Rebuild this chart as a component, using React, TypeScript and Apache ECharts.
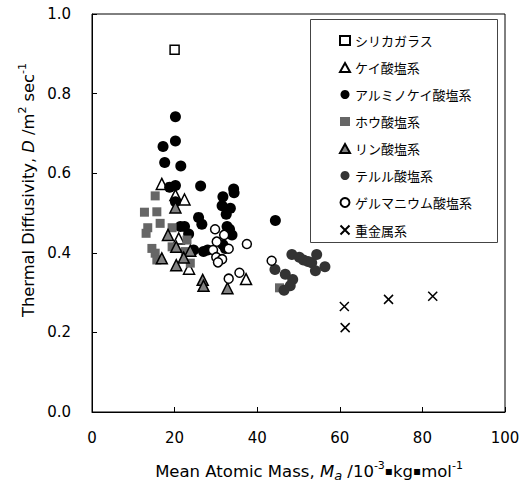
import React, { useEffect, useRef } from 'react';
import * as echarts from 'echarts';

const seriesNames = ['シリカガラス', 'ケイ酸塩系', 'アルミノケイ酸塩系', 'ホウ酸塩系', 'リン酸塩系', 'テルル酸塩系', 'ゲルマニウム酸塩系', '重金属系'];

const silica = [[20, 0.91]];
const silicate = [[16.9, 0.573], [20.2, 0.545], [22.4, 0.534], [21.0, 0.436], [23.5, 0.36], [37.3, 0.334]];
const aluminosilicate = [
  [20.2, 0.742], [20.2, 0.681], [17.2, 0.667], [17.6, 0.627], [21.5, 0.618], [18.8, 0.565], [20.2, 0.569],
  [26.3, 0.568], [31.7, 0.541], [34.3, 0.56], [34.4, 0.551], [20.2, 0.528], [31.5, 0.518], [33.5, 0.512],
  [32.5, 0.497], [25.8, 0.489], [26.6, 0.472], [21.4, 0.466], [22.4, 0.466], [32.7, 0.466], [33.3, 0.459],
  [33.9, 0.445], [23.4, 0.447], [44.4, 0.481], [31.7, 0.42], [32.3, 0.411], [27.0, 0.403], [28.0, 0.407], [24.6, 0.407],
];
const borate = [
  [15.3, 0.543], [12.7, 0.502], [15.7, 0.503], [16.5, 0.474], [13.5, 0.463], [13.1, 0.449], [19.4, 0.463],
  [14.5, 0.411], [15.3, 0.399], [15.7, 0.382], [19.4, 0.415], [23.0, 0.432], [22.6, 0.403], [23.8, 0.374], [45.4, 0.312],
];
const phosphate = [
  [20.2, 0.514], [18.4, 0.445], [20.4, 0.415], [23.8, 0.405], [16.9, 0.386], [22.2, 0.388], [20.4, 0.369],
  [26.8, 0.332], [27.0, 0.317], [32.8, 0.311],
];
const tellurite = [
  [48.4, 0.396], [50.2, 0.389], [51.2, 0.382], [52.3, 0.378], [53.2, 0.375], [54.4, 0.396], [56.4, 0.365], [54.1, 0.355],
  [44.3, 0.358], [46.8, 0.346], [48.6, 0.333], [48.0, 0.317], [46.5, 0.306],
];
const germanate = [
  [29.8, 0.459], [32.0, 0.445], [30.2, 0.428], [37.5, 0.422], [33.1, 0.41], [29.3, 0.407], [30.1, 0.389],
  [31.5, 0.384], [30.5, 0.376], [35.7, 0.35], [33.1, 0.335], [43.5, 0.38],
];
const heavyMetal = [[61.1, 0.265], [61.3, 0.212], [71.8, 0.283], [82.5, 0.291]];

const xTicks = { min: 0, max: 100, interval: 20 };
const yTicks = { min: 0, max: 1.0, interval: 0.2 };

const FONT = 'DejaVu Sans';
const JP = 'Noto Sans CJK JP';
const CROSS = 'path://M0,0L10,10M10,0L0,10';

export default function App() {
  const ref = useRef<HTMLDivElement>(null);
  useEffect(() => {
    const chart = echarts.init(ref.current!, null, { renderer: 'svg' });
    const mk = (name: string, data: number[][], symbol: string, size: number, style: any) => ({
      name, type: 'scatter', data, symbol, symbolSize: size, itemStyle: { opacity: 1, ...style },
    });
    chart.setOption({
      animation: false,
      backgroundColor: '#fff',
      grid: { left: 92, right: 21, top: 14, bottom: 83, show: true, borderColor: '#000', borderWidth: 1 },
      xAxis: {
        type: 'value', ...xTicks,
        axisLine: { show: true, lineStyle: { color: '#000', width: 1 } },
        axisTick: { show: true, inside: true, length: 5, lineStyle: { color: '#000' } },
        splitLine: { show: false },
        axisLabel: { color: '#000', fontFamily: FONT, fontSize: 15, margin: 18 },
      },
      yAxis: {
        type: 'value', ...yTicks,
        axisLine: { show: true, lineStyle: { color: '#000', width: 1 } },
        axisTick: { show: true, inside: true, length: 5, lineStyle: { color: '#000' } },
        splitLine: { show: false },
        axisLabel: { color: '#000', fontFamily: FONT, fontSize: 15, margin: 21, formatter: (v: number) => v.toFixed(1) },
      },
      legend: {
        orient: 'vertical', left: 333, top: 29, itemWidth: 10, itemHeight: 9, itemGap: 14,
        textStyle: { fontFamily: JP, fontSize: 13, color: '#000' },
        data: seriesNames,
      },
      graphic: [
        { type: 'rect', shape: { x: 310.5, y: 19.5, width: 187, height: 223 }, style: { fill: 'none', stroke: '#444', lineWidth: 1 } },
        {
          type: 'text', x: 309, y: 471,
          style: {
            text: '{n|Mean Atomic Mass, }{i|M}{sub|a}{n| /10}{sup|-3}{d|▪}{n|kg}{d|▪}{n|mol}{sup|-1}',
            align: 'center', verticalAlign: 'middle', fill: '#000',
            rich: {
              n: { fontFamily: FONT, fontSize: 16.5, lineHeight: 22, fill: '#000' },
              i: { fontFamily: FONT, fontSize: 16.5, lineHeight: 22, fontStyle: 'italic', fill: '#000' },
              sub: { fontFamily: FONT, fontSize: 13, lineHeight: 22, fontStyle: 'italic', verticalAlign: 'bottom', fill: '#000' },
              sup: { fontFamily: FONT, fontSize: 11, lineHeight: 22, verticalAlign: 'top', fill: '#000' },
              d: { fontFamily: FONT, fontSize: 12, lineHeight: 22, fill: '#000' },
            },
          },
        },
        {
          type: 'text', x: 28, y: 190, rotation: Math.PI / 2,
          style: {
            text: '{n|Thermal Diffusivity, }{i|D}{n| /m}{sup|2}{n| sec}{sup|-1}',
            align: 'center', verticalAlign: 'middle', fill: '#000',
            rich: {
              n: { fontFamily: FONT, fontSize: 16.3, lineHeight: 22, fill: '#000' },
              i: { fontFamily: FONT, fontSize: 16.3, lineHeight: 22, fontStyle: 'italic', fill: '#000' },
              sup: { fontFamily: FONT, fontSize: 11, lineHeight: 22, verticalAlign: 'top', fill: '#000' },
            },
          },
        },
      ],
      series: [
        mk(seriesNames[0], silica, 'rect', 9, { color: '#fff', borderColor: '#000', borderWidth: 1.5 }),
        mk(seriesNames[1], silicate, 'triangle', 11, { color: '#fff', borderColor: '#000', borderWidth: 1.5 }),
        mk(seriesNames[2], aluminosilicate, 'circle', 11, { color: '#000' }),
        mk(seriesNames[3], borate, 'rect', 9, { color: '#666' }),
        mk(seriesNames[4], phosphate, 'triangle', 11, { color: '#808080', borderColor: '#000', borderWidth: 1.5 }),
        mk(seriesNames[5], tellurite, 'circle', 11, { color: '#333' }),
        mk(seriesNames[6], germanate, 'circle', 9, { color: '#fff', borderColor: '#000', borderWidth: 1.5 }),
        mk(seriesNames[7], heavyMetal, CROSS, 9, { color: 'none', borderColor: '#000', borderWidth: 1.5 }),
      ],
    });
    return () => chart.dispose();
  }, []);
  return <div ref={ref} style={{ position: 'fixed', left: 0, top: 0, width: 526, height: 495, background: '#fff' }} />;
}
